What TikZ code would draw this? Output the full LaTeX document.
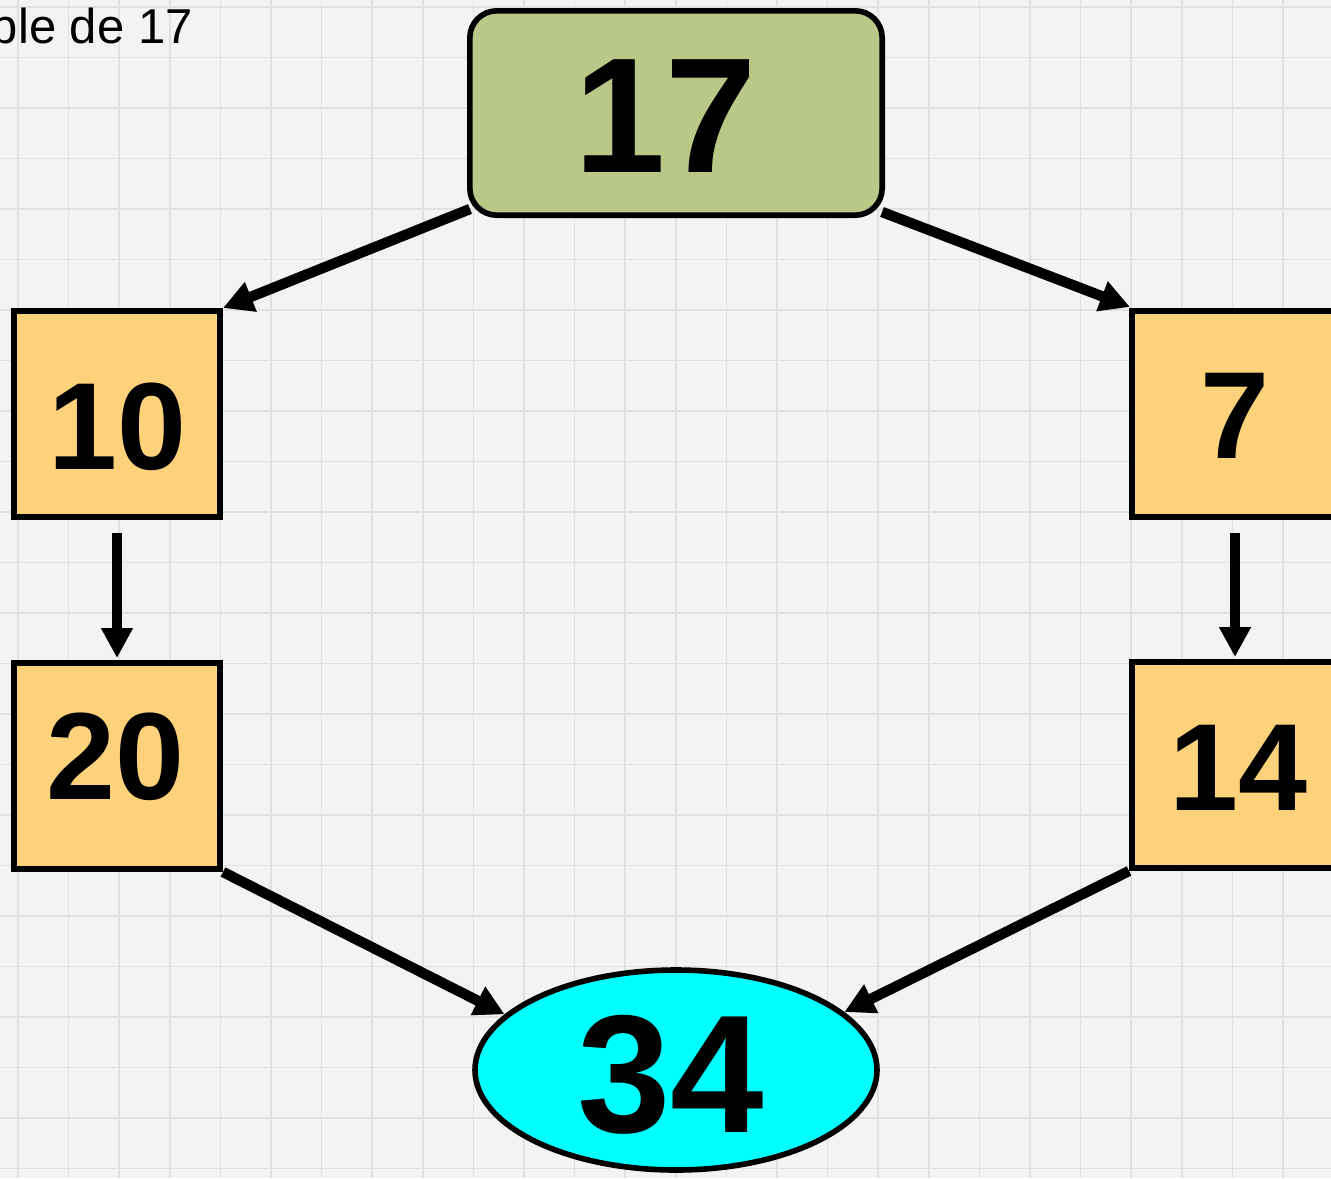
\documentclass[tikz,border=0pt]{standalone}
\usepackage{fontspec}
\setmainfont{Liberation Sans}
\usetikzlibrary{arrows.meta,shapes.geometric,calc}
\definecolor{bgpaper}{HTML}{F3F3F1}
\definecolor{gridgray}{HTML}{E0E0DE}
\definecolor{topgreen}{HTML}{B9C887}
\definecolor{boxorange}{HTML}{FDD27A}
\definecolor{ellcyan}{HTML}{00FFFF}
% shift a text inside its node: #1 = twice the horizontal shift, #2 = vertical raise
\newcommand\nudgetext[3]{\kern#1\raisebox{#2}[\height][\depth]{#3}}
\tikzset{
  gridline/.style={draw=gridgray, line width=0.75pt},
  numbox/.style={draw, line width=2.8pt, fill=boxorange, minimum width=103.2pt, minimum height=103.2pt, inner sep=0pt,
    font=\bfseries\fontsize{62}{62}\selectfont},
  topbox/.style={draw, line width=2.8pt, fill=topgreen, rounded corners=13.5pt, minimum width=206.2pt, minimum height=102.2pt, inner sep=0pt,
    font=\bfseries\fontsize{82}{82}\selectfont},
  resell/.style={ellipse, draw, line width=2.8pt, fill=ellcyan, minimum width=201pt, minimum height=100pt, inner sep=0pt,
    font=\bfseries\fontsize{84}{84}\selectfont},
  conn/.style={line width=5.2pt, -{Triangle[length=15pt,width=15pt]}},
  titletext/.style={font=\fontsize{24.5}{24.5}\selectfont, inner sep=0pt, anchor=base east}
}
\begin{document}
\begin{tikzpicture}[x={(0.5pt,0)}, y={(0,-0.5pt)}]
\useasboundingbox (0,0) rectangle (1331,1178);
\clip (0,0) rectangle (1331,1178);
\fill[bgpaper] (0,0) rectangle (1331,1178);
\foreach \i in {0,...,26} \draw[gridline] ({18+50.6*\i},0) -- ({18+50.6*\i},1178);
\foreach \j in {0,...,23} \draw[gridline] (0,{7+50.5*\j}) -- (1331,{7+50.5*\j});

\node[titletext] (title) at (193,43) {Double de 17};

\node[topbox] (n17) at (676,113) {\nudgetext{-10.5pt}{-1.75pt}{17}};
\node[numbox] (b10) at (117,414) {\nudgetext{0.5pt}{-6.5pt}{10}};
\node[numbox] (b7) at (1235,414) {\nudgetext{0pt}{-1pt}{7}};
\node[numbox] (b20) at (117,766) {\nudgetext{-1.7pt}{4.5pt}{20}};
\node[numbox] (b14) at (1235,765) {\nudgetext{3.5pt}{-1.25pt}{14}};
\node[resell] (e34) at (676,1070) {\nudgetext{-5.5pt}{-2.5pt}{34}};

\draw[conn] ($(n17.south west)+(3,-9)$) -- (b10.north east);
\draw[conn] ($(n17.south east)+(-3,-6)$) -- ($(b7.north west)+(1,-1)$);
\draw[conn, shorten >=1pt] ($(b10.south)+(0,13)$) -- (b20.north);
\draw[conn, shorten >=1pt] ($(b7.south)+(0,13)$) -- (b14.north);
\draw[conn] (b20.south east) -- (e34.162);
\draw[conn] (b14.south west) -- (e34.19);
\end{tikzpicture}
\end{document}
